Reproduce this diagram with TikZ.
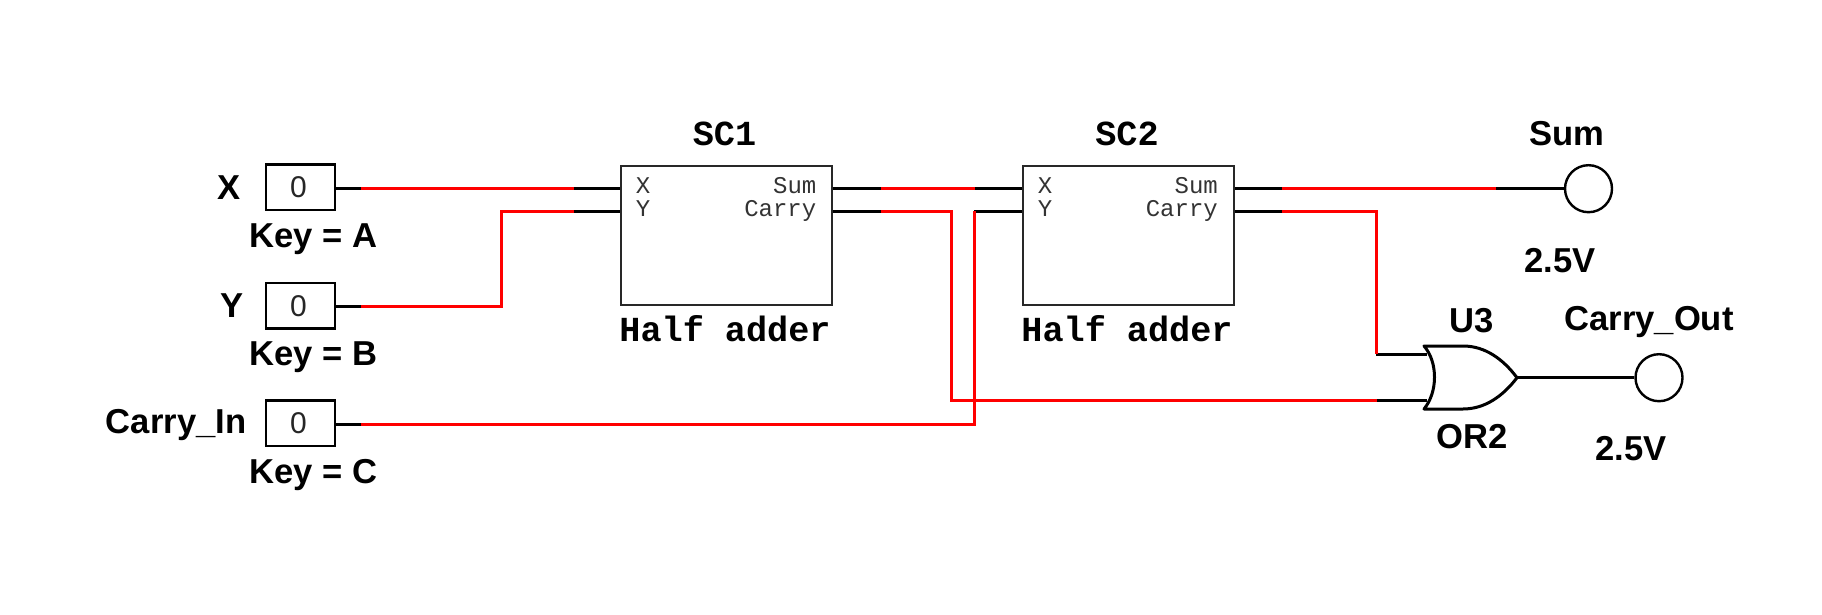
\documentclass[tikz,border=0pt]{standalone}
\usepackage{fontspec}
\setmainfont{Liberation Sans}
\setmonofont{Liberation Mono}
\definecolor{wirered}{RGB}{255,0,0}
\definecolor{boxgray}{RGB}{40,40,40}
\tikzset{
  lbl/.style={font=\fontsize{34.6}{38}\selectfont\bfseries,inner sep=0pt},
  inbox/.style={draw=black,line width=2.4pt,minimum width=69.5pt,minimum height=45.5pt,inner sep=0pt,font=\fontsize{30}{34}\selectfont,text=black!85},
  adder/.style={draw=boxgray,line width=2pt,minimum width=211.5pt,minimum height=139.5pt,inner sep=0pt},
  pinlbl/.style={font=\ttfamily\fontsize{24}{28}\selectfont,text=black!80,inner sep=0pt},
  titlelbl/.style={font=\ttfamily\bfseries\fontsize{35.2}{38}\selectfont,inner sep=0pt},
  probe/.style={circle,draw=black,line width=2.4pt,minimum size=47pt,inner sep=0pt},
  blk/.style={draw=black,line width=3pt},
  redw/.style={draw=wirered,line width=3pt,line join=miter},
  gate/.style={draw=black,line width=3pt,line join=round}
}
\begin{document}
\begin{tikzpicture}[x=1pt,y=-1pt]
\useasboundingbox (0,0) rectangle (1822,615);
% input boxes
\node[inbox] (bx) at (300.5,187.4) {\hspace*{-4pt}0};
\node[inbox] (by) at (300.5,305.8) {\hspace*{-4pt}0};
\node[inbox] (bc) at (300.5,423.2) {\hspace*{-4pt}0};
\node[lbl,anchor=center] (lx) at (229.5,187.5) {X};
\node[lbl,anchor=center] (ly) at (232.5,305.5) {Y};
\node[lbl,anchor=base east] (lc) at (246.5,433) {Carry\_In};
\node[lbl,anchor=base west] (kA) at (249,247.5) {Key = A};
\node[lbl,anchor=base west] (kB) at (249,365.5) {Key = B};
\node[lbl,anchor=base west] (kC) at (249,483.5) {Key = C};
% half adders
\node[adder] (sc1) at (726.6,235.5) {};
\node[adder] (sc2) at (1128.3,235.5) {};
\node[titlelbl,anchor=base] (t1) at (724.5,146) {SC1};
\node[titlelbl,anchor=base] (t2) at (1127,146) {SC2};
\node[titlelbl,anchor=base] (h1) at (725,341) {Half adder};
\node[titlelbl,anchor=base] (h2) at (1127,341) {Half adder};
\node[pinlbl,anchor=base] (p1x) at (643,193) {X};
\node[pinlbl,anchor=base] (p1y) at (643,216) {Y};
\node[pinlbl,anchor=base east] (p1s) at (816.5,193) {Sum};
\node[pinlbl,anchor=base east] (p1c) at (816.5,216) {Carry};
\node[pinlbl,anchor=base] (p2x) at (1045,193) {X};
\node[pinlbl,anchor=base] (p2y) at (1045,216) {Y};
\node[pinlbl,anchor=base east] (p2s) at (1218,193) {Sum};
\node[pinlbl,anchor=base east] (p2c) at (1218,216) {Carry};
% probes
\node[probe] (psum) at (1588.5,188.7) {};
\node[probe] (pcar) at (1659,377.7) {};
\node[lbl,anchor=base] (lsum) at (1567,145.5) {Sum};
\node[lbl,anchor=base] (vsum) at (1560,272) {2.5V};
\node[lbl,anchor=base] (lcar) at (1649,330) {Carry\_Out};
\node[lbl,anchor=base] (vcar) at (1631,460) {2.5V};
\node[lbl,anchor=base] (u3) at (1472,332) {U3};
\node[lbl,anchor=base] (or2) at (1472,448) {OR2};
% OR gate
\coordinate (ga) at (1427,354);
\coordinate (gb) at (1427,400.5);
\coordinate (gt) at (1517,377.7);
\draw[gate] (1424,346) .. controls (1438,362) and (1438,392) .. (1424,409)
  -- (1463,409) .. controls (1485,409) and (1503,396) .. (gt)
  .. controls (1503,359) and (1485,346) .. (1463,346) -- cycle;
% pins and junctions
\coordinate (xs) at (bx.east |- 0,188.7);
\coordinate (ys) at (by.east |- 0,306);
\coordinate (cs) at (bc.east |- 0,424);
\coordinate (xa) at (361,188.7);
\coordinate (ya) at (361,306);
\coordinate (ca) at (361,424);
\coordinate (xb) at (573.6,188.7);
\coordinate (yb) at (573.6,211.4);
\coordinate (yv1) at (501.7,306);
\coordinate (yv2) at (501.7,211.4);
\coordinate (x1) at (sc1.west |- 0,188.7);
\coordinate (y1) at (sc1.west |- 0,211.4);
\coordinate (s1) at (sc1.east |- 0,188.7);
\coordinate (c1) at (sc1.east |- 0,211.4);
\coordinate (s1a) at (881,188.7);
\coordinate (s1b) at (975,188.7);
\coordinate (c1a) at (881,211.4);
\coordinate (c1v) at (951.7,211.4);
\coordinate (c1w) at (951.7,400.5);
\coordinate (c1x) at (1377,400.5);
\coordinate (x2) at (sc2.west |- 0,188.7);
\coordinate (y2) at (sc2.west |- 0,211.4);
\coordinate (cv1) at (974,424);
\coordinate (cv2) at (974,211.4);
\coordinate (s2) at (sc2.east |- 0,188.7);
\coordinate (c2) at (sc2.east |- 0,211.4);
\coordinate (s2a) at (1282,188.7);
\coordinate (s2b) at (1495.7,188.7);
\coordinate (c2a) at (1282,211.4);
\coordinate (c2v) at (1376,211.4);
\coordinate (c2w) at (1376,354);
% black stubs
\draw[blk] (xs) -- (xa);
\draw[blk] (ys) -- (ya);
\draw[blk] (cs) -- (ca);
\draw[blk] (xb) -- (x1);
\draw[blk] (yb) -- (y1);
\draw[blk] (s1) -- (s1a);
\draw[blk] (c1) -- (c1a);
\draw[blk] (s1b) -- (x2);
\draw[blk] (cv2) -- (y2);
\draw[blk] (s2) -- (s2a);
\draw[blk] (c2) -- (c2a);
\draw[blk] (s2b) -- (psum.west);
\draw[blk] (c2w) -- (ga);
\draw[blk] (c1x) -- (gb);
\draw[blk] (gt) -- (pcar.west);
% red wires
\draw[redw] (xa) -- (xb);
\draw[redw] (ya) -- (yv1) -- (yv2) -- (yb);
\draw[redw] (ca) -- (cv1) -- (cv2);
\draw[redw] (s1a) -- (s1b);
\draw[redw] (c1a) -- (c1v) -- (c1w) -- (c1x);
\draw[redw] (s2a) -- (s2b);
\draw[redw] (c2a) -- (c2v) -- (c2w);
\end{tikzpicture}
\end{document}
